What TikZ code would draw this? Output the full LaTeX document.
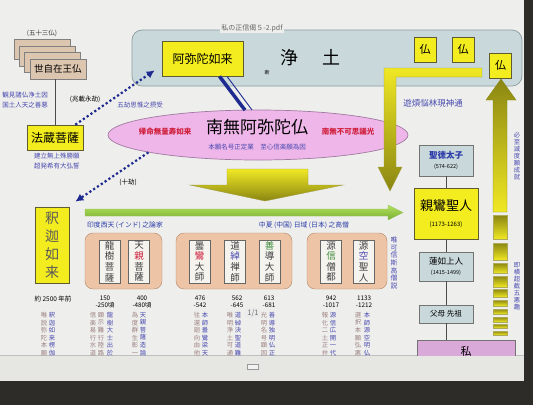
\documentclass[tikz,border=0pt]{standalone}
\usepackage{fontspec}
\setmainfont{Noto Sans CJK JP}
\usepackage{tikz}
\usetikzlibrary{shapes.geometric,arrows.meta}

\definecolor{screen}{HTML}{EEEFEC}
\definecolor{screenlow}{HTML}{E6E6E3}
\definecolor{bezel}{HTML}{2E2C28}
\definecolor{boxyellow}{HTML}{F3EC1E}
\definecolor{yedge}{HTML}{5E5C30}
\definecolor{cardtan}{HTML}{DCC6B0}
\definecolor{grouptan}{HTML}{EDC4A6}
\definecolor{groupedge}{HTML}{B4866A}
\definecolor{jodo}{HTML}{C8D8DB}
\definecolor{jodoedge}{HTML}{8C9CA0}
\definecolor{pinkell}{HTML}{EFB6EA}
\definecolor{pinkedge}{HTML}{A07AA0}
\definecolor{mauve}{HTML}{D9A9DA}
\definecolor{txtblue}{HTML}{4A4AB0}
\definecolor{navytxt}{HTML}{2A3AA8}
\definecolor{navyarrow}{HTML}{1E2A90}
\definecolor{txtred}{HTML}{D0203C}
\definecolor{txtbrown}{HTML}{9C8080}
\definecolor{greentxt}{HTML}{3E8A3A}
\definecolor{darkolive}{HTML}{8A8612}
\definecolor{brightyellow}{HTML}{F0E824}
\definecolor{barlight}{HTML}{B4E060}
\definecolor{bardark}{HTML}{78B030}
\definecolor{innerwhite}{HTML}{F4F3EE}

% vertical (tategaki) stack of characters
\makeatletter
\newcommand\vt[1]{\vbox{\@tfor\vch:=#1\do{\hbox to 1em{\hss\vch\hss}}}}
\makeatother

\tikzset{
  card/.style={draw=black!50, fill=cardtan, minimum width=56pt, minimum height=20pt, inner sep=0pt},
  ybox/.style={draw=yedge, fill=boxyellow, inner sep=0pt, line width=0.7pt},
  graybox/.style={draw=black!55, fill=jodo, inner sep=0pt, line width=0.6pt},
  inbox/.style={draw=black!60, fill=innerwhite, minimum width=21pt, minimum height=43pt, inner sep=0pt,
    text=black!75, font=\fontsize{9.5}{10.6}\selectfont},
  tanbox/.style={draw=groupedge, fill=grouptan, rounded corners=8pt, minimum height=56pt, inner sep=0pt},
  txt/.style={inner sep=0pt, font=\fontsize{6.5}{7.5}\selectfont},
  btxt/.style={txt, text=txtblue},
  rtxt/.style={inner sep=0pt, text=txtred, font=\fontsize{7.5}{8}\selectfont\bfseries},
  yr/.style={txt, align=center, font=\fontsize{6.3}{6.8}\selectfont},
  vcol/.style={inner sep=0pt, anchor=north, font=\fontsize{6.3}{7.6}\selectfont},
  dotarrow/.style={navyarrow, line width=2.2pt, dash pattern=on 2.2pt off 2.4pt, -{Latex[length=8pt,width=8pt]}},
  tie/.style={draw=black!70, line width=0.6pt},
}

\begin{document}
\begin{tikzpicture}[x=1pt,y=-1pt]
\useasboundingbox (0,0) rectangle (533,405);
% screen
\fill[bezel] (0,0) rectangle (533,405);
\fill[screen] (0,0) rectangle (524,381);
\fill[screenlow] (0,355) rectangle (524,381);
\draw[black!25, line width=0.4pt] (0,355) -- (524,355);

% jodo
\node[draw=jodoedge, fill=jodo, rounded corners=10pt, minimum width=390pt, minimum height=56pt, line width=0.7pt] (jodo) at (327,58) {};
\node[fill=screen, inner sep=1pt, text=black!60, font=\fontsize{7}{8}\selectfont] (pdfname) at (252,28) {私の正信偈５-2.pdf};
\node[ybox, minimum width=81pt, minimum height=35pt, font=\fontsize{12}{14}\selectfont] (amida) at (202.5,58.5) {阿弥陀如来};
\node[inner sep=0pt, font=\fontsize{18}{20}\selectfont] (jodotxt) at (310.5,58) {浄\hspace{25pt}土};
\node[inner sep=0pt, font=\fontsize{5}{6}\selectfont] (dan) at (267,73) {断};
\foreach \n/\x/\y in {b1/425/49.5, b2/463/49.5, b3/500.5/65.5}
  \node[ybox, minimum width=22pt, minimum height=25pt, font=\fontsize{11}{12}\selectfont] (\n) at (\x,\y) {仏};

% cards
\foreach \i in {0,1,2}
  \filldraw[fill=cardtan, draw=black!50] (14+5.3*\i,39+6.7*\i) rectangle ++(56,20);
\node[card, font=\fontsize{9.5}{10}\selectfont] (sejizai) at (58,69) {世自在王仏};
\node[txt, text=black!75] (gojusan) at (42,33) {(五十三仏)};

\node[ybox, minimum width=56pt, minimum height=25pt, font=\fontsize{12}{13}\selectfont] (hozo) at (55,137.5) {法蔵菩薩};
\draw[tie] (hozo.north) -- (hozo.north |- sejizai.south);

\node[btxt] (kanken) at (25,95) {観見諸仏浄土因};
\node[btxt] (kokudo) at (25,105) {国土人天之善悪};
\node[txt] (chosai) at (85,99) {(兆載永劫)};
\node[btxt] (gokou) at (140,105) {五劫思惟之摂受};
\node[btxt] (konryu) at (57,156) {建立無上殊勝願};
\node[btxt] (chohotsu) at (57,166) {超発希有大弘誓};
\node[txt] (jukou) at (128,182) {(十劫)};

% nembutsu
\node[ellipse, draw=pinkedge, fill=pinkell, minimum width=300pt, minimum height=50pt, inner sep=0pt, line width=0.7pt] (nembutsu) at (258,135) {};
\draw[navyarrow, line width=3.5pt] ([xshift=17pt]amida.south) -- ([xshift=-13pt,yshift=-0.5pt]nembutsu.north);
\draw[navyarrow, line width=0.9pt] ([xshift=24.5pt]amida.south) -- ([xshift=-6pt,yshift=-0.3pt]nembutsu.north);
\node[inner sep=0pt, font=\fontsize{17}{18}\selectfont] (namu) at (257,127) {南無阿弥陀仏};
\node[rtxt] (kimyo) at (165,132) {帰命無量寿如来};
\node[rtxt] (fukashigi) at (348,132) {南無不可思議光};
\node[btxt] (hongan) at (257,147) {本願名号正定業\quad 至心信楽願為因};

% big arrows
\shadedraw[top color=brightyellow, bottom color=darkolive, draw=darkolive!80, line width=0.4pt]
  (227,169) -- (308,169) -- (308,185) -- (343,185) -- (265,201) -- (190,185) -- (227,185) -- cycle;
\shadedraw[top color=brightyellow, middle color=brightyellow!80!darkolive, bottom color=darkolive, draw=darkolive!80, line width=0.4pt]
  (482,68) -- (482,77) -- (396,77) -- (396,167) -- (402,167) -- (390,191) -- (378,167) -- (384,167) -- (384,68) -- cycle;
\node[btxt, font=\fontsize{8.5}{9}\selectfont] (yubon) at (433,103) {遊煩悩林現神通};
\shadedraw[top color=darkolive, bottom color=brightyellow, draw=darkolive, line width=0.4pt]
  (493,212) -- (493,100) -- (486,100) -- (501,79) -- (516,100) -- (507,100) -- (507,212) -- cycle;
\foreach \t/\b in {215/239,243/260,263/273,276/287,289/297,300/306,309/314,317/322,324/328,331/335}
  \shadedraw[top color=darkolive, bottom color=brightyellow, draw=darkolive!70, line width=0.3pt] (493,\t) rectangle (507,\b);
\node[btxt, font=\fontsize{6.3}{7}\selectfont] (hisshi) at (517,156) {\vt{必至滅度願成就}};
\node[btxt, font=\fontsize{6.3}{7}\selectfont] (sokuo) at (517,286) {\vt{即横超截五悪趣}};

% green bar
\shadedraw[top color=barlight, bottom color=bardark, draw=bardark!80, line width=0.4pt]
  (85,209) -- (388,209) -- (388,205) -- (403,212.5) -- (388,220) -- (388,216) -- (85,216) -- cycle;

% shaka
\node[ybox, minimum width=34pt, minimum height=76pt, text=black!65, font=\fontsize{14}{18}\selectfont] (shaka) at (52,245) {\vt{釈迦如来}};
\draw[dotarrow] ([xshift=-8pt]hozo.north east) -- ([xshift=-7pt,yshift=6pt]amida.south west);
\draw[dotarrow] (nembutsu.189) -- ([xshift=6pt,yshift=5pt]shaka.north east);

\node[txt, text=navytxt, font=\fontsize{6.8}{7}\selectfont] (indo) at (125,225) {印度西天 (インド) 之論家};
\node[txt, text=navytxt, font=\fontsize{6.8}{7}\selectfont] (chuka) at (304,225) {中夏 (中国) 日域 (日本) 之高僧};

% masters
\node[tanbox, minimum width=77pt] (gindo) at (123.5,261) {};
\node[tanbox, minimum width=116pt] (gchuka) at (234,261) {};
\node[tanbox, minimum width=80pt] (gnihon) at (347,261) {};
\node[inbox] (ryuju) at (109.5,261.5) {\vt{龍樹菩薩}};
\node[inbox] (tenjin) at (139,261.5) {\vt{天{\color{txtred}親}菩薩}};
\node[inbox] (donran) at (199.5,261.5) {\vt{曇{\color{txtred}鸞}大師}};
\node[inbox] (doshaku) at (235,261.5) {\vt{道{\color{txtblue}綽}禅師}};
\node[inbox] (zendo) at (269.5,261.5) {\vt{{\color{greentxt}善}導大師}};
\node[inbox] (genshin) at (331,261.5) {\vt{源{\color{greentxt}信}僧都}};
\node[inbox] (genku) at (363.5,261.5) {\vt{源{\color{txtblue}空}聖人}};
\node[btxt, font=\fontsize{6.8}{7.6}\selectfont] (yuika) at (394,263) {\vt{唯可信斯高僧説}};

% years
\node[txt] (yaku) at (53,299) {約 2500 年前};
\node[yr] (y1) at (105,302) {150\\-250頃};
\node[yr] (y2) at (142,302) {400\\-480頃};
\node[yr] (y3) at (200,302) {476\\-542};
\node[yr] (y4) at (237,302) {562\\-645};
\node[yr] (y5) at (269,302) {613\\-681};
\node[yr] (y6) at (331,302) {942\\-1017};
\node[yr] (y7) at (364,302) {1133\\-1212};

% right column
\node[graybox, minimum width=54pt, minimum height=31pt, align=center, font=\fontsize{8.5}{10}\selectfont] (shotoku) at (446,160.5)
  {\textcolor{navytxt}{\bfseries 聖徳太子}\\{\fontsize{5.5}{6}\selectfont (574-622)}};
\node[ybox, minimum width=64pt, minimum height=51pt, align=center, font=\fontsize{13}{16}\selectfont] (shinran) at (446,213.5)
  {親鸞聖人\\{\fontsize{6}{7}\selectfont (1173-1263)}};
\node[graybox, minimum width=54pt, minimum height=29pt, align=center, font=\fontsize{8.5}{10}\selectfont] (rennyo) at (446,266.5)
  {蓮如上人\\{\fontsize{5.5}{6}\selectfont (1415-1499)}};
\node[graybox, minimum width=54pt, minimum height=18pt, font=\fontsize{7.5}{8}\selectfont] (fubo) at (446,314) {父母 先祖};
\draw[tie] (shotoku) -- (shinran);
\draw[tie] (shinran) -- (rennyo);
\draw[tie] (rennyo) -- (fubo);

% cut at the viewport edge
\begin{scope}
\clip (0,0) rectangle (524,355);
\foreach \x/\c/\s [count=\k] in {44/txtbrown/唯説弥陀本願, 52/txtblue/釈迦如来楞伽,
    93/txtbrown/信楽易行水道, 101/txtbrown/顕示難行陸路, 110/txtblue/龍樹大士出於,
    135/txtbrown/為度群生彰一, 143/txtblue/天親菩薩造論,
    197/txtbrown/往還廻向由他, 205/txtblue/本師曇鸞梁天,
    230/txtbrown/唯明浄土可通, 238/txtblue/道綽決聖道難,
    264/txtbrown/光明名号顕因, 272/txtblue/善導独明仏正,
    325/txtbrown/報化二土正弁, 333/txtblue/源信広開一代,
    358/txtbrown/選択本願弘悪, 367/txtblue/本師源空明仏}
  \node[vcol, text=\c] (col\k) at (\x,312) {\expandafter\vt\expandafter{\s}};
\node[draw=black!55, fill=mauve, minimum width=98pt, minimum height=30pt, anchor=north west, inner sep=0pt] (watashi) at (417,340) {};
\node[inner sep=0pt, font=\fontsize{11}{12}\selectfont] (watashitxt) at (466,351) {私};
\end{scope}
\draw[tie] (fubo.south) -- (fubo.south |- watashi.north);

\node[fill=black!8, rounded corners=2pt, text=black!55, font=\fontsize{7.5}{8}\selectfont, inner sep=1.5pt] (page) at (253,313) {1/1};
\node[draw=black!40, fill=black!5, minimum width=11pt, minimum height=5pt, inner sep=0pt] (icon) at (253,367) {};
\end{tikzpicture}
\end{document}
